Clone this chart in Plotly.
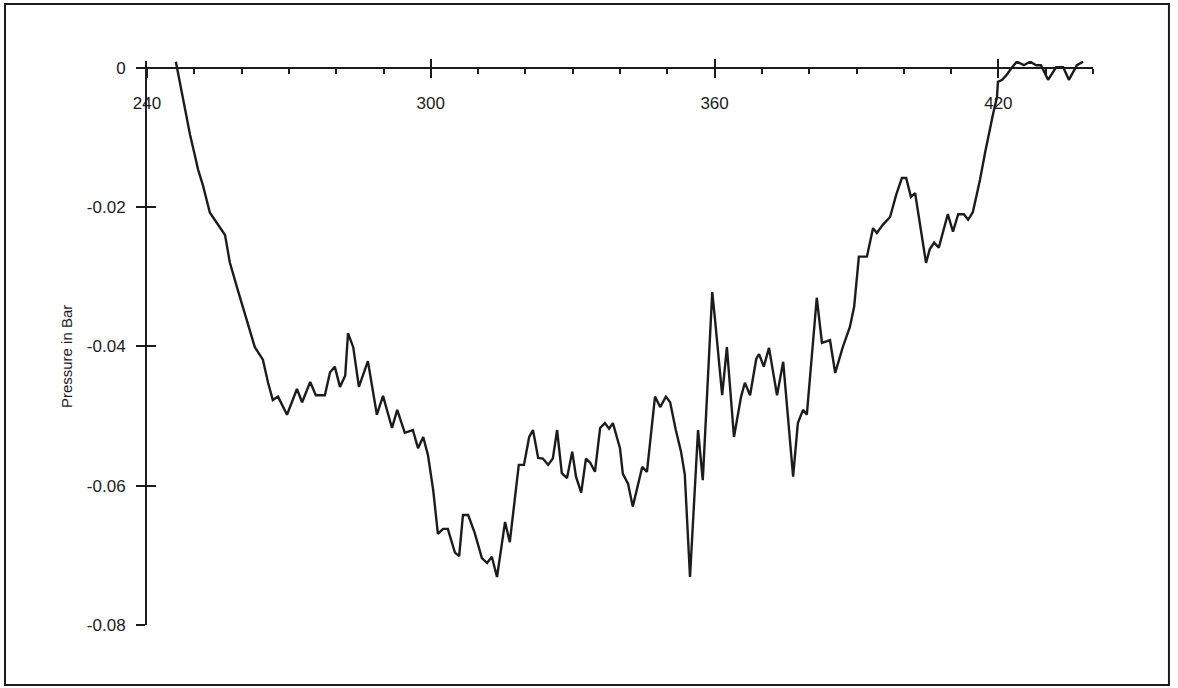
import plotly.graph_objects as go

# Time (x) and pressure in bar (y)
time_s = [246.1, 247.0, 248.0, 249.1, 250.1, 250.8, 251.8, 253.3, 256.5, 257.5,
          259.2, 260.7, 262.8, 264.5, 265.6, 266.6, 267.7, 269.6, 271.7, 272.8,
          274.5, 275.7, 277.6, 278.7, 279.7, 280.8, 281.9, 282.5, 283.6, 284.8,
          286.7, 288.6, 289.9, 291.8, 292.9, 294.5, 296.2, 297.3, 298.4, 299.4,
          300.5, 301.5, 302.6, 303.6, 305.1, 306.0, 306.8, 307.9, 309.3, 310.8,
          311.9, 312.9, 314.0, 315.7, 316.7, 318.6, 319.7, 320.8, 321.6, 322.7,
          323.7, 324.8, 325.8, 326.7, 327.7, 328.8, 329.9, 330.7, 331.8, 332.8,
          333.7, 334.7, 335.8, 336.8, 337.7, 338.5, 340.0, 340.6, 341.7, 342.7,
          344.7, 345.7, 347.4, 348.5, 349.7, 350.6, 351.8, 352.9, 353.7, 354.8,
          356.5, 357.5, 359.5, 360.1, 361.6, 362.6, 364.1, 365.6, 366.4, 367.5,
          368.8, 369.4, 370.4, 371.5, 373.2, 374.5, 376.6, 377.6, 378.7, 379.5,
          381.6, 382.7, 384.4, 385.5, 387.1, 388.6, 389.5, 390.5, 392.2, 393.5,
          394.3, 395.6, 397.1, 398.4, 399.6, 400.5, 401.5, 402.4, 404.7, 405.5,
          406.4, 407.4, 408.3, 409.3, 410.4, 411.5, 412.7, 413.6, 414.6, 416.1,
          417.2, 418.2, 418.9, 419.7, 419.9, 420.8, 421.6, 422.9, 423.9, 425.4,
          426.7, 428.0, 429.0, 430.5, 432.2, 433.7, 434.9, 436.6, 437.9]

pressure_bar = [0.0009, -0.0024, -0.0060, -0.0096, -0.0125, -0.0146, -0.0168, -0.0208, -0.0240, -0.0279,
                -0.0319, -0.0352, -0.0401, -0.0419, -0.0452, -0.0477, -0.0472, -0.0498, -0.0461, -0.0480,
                -0.0451, -0.0470, -0.0470, -0.0437, -0.0429, -0.0458, -0.0442, -0.0381, -0.0401, -0.0458,
                -0.0421, -0.0498, -0.0471, -0.0517, -0.0491, -0.0524, -0.0520, -0.0546, -0.0530, -0.0556,
                -0.0606, -0.0669, -0.0662, -0.0662, -0.0696, -0.0701, -0.0642, -0.0642, -0.0668, -0.0704,
                -0.0711, -0.0702, -0.0731, -0.0652, -0.0681, -0.0570, -0.0570, -0.0530, -0.0520, -0.0560,
                -0.0561, -0.0570, -0.0561, -0.0520, -0.0582, -0.0589, -0.0551, -0.0587, -0.0610, -0.0561,
                -0.0567, -0.0580, -0.0517, -0.0510, -0.0518, -0.0510, -0.0546, -0.0583, -0.0597, -0.0630,
                -0.0573, -0.0580, -0.0472, -0.0487, -0.0472, -0.0480, -0.0520, -0.0551, -0.0584, -0.0731,
                -0.0520, -0.0592, -0.0322, -0.0362, -0.0470, -0.0401, -0.0530, -0.0472, -0.0452, -0.0470,
                -0.0418, -0.0411, -0.0429, -0.0402, -0.0470, -0.0422, -0.0587, -0.0510, -0.0491, -0.0498,
                -0.0330, -0.0395, -0.0391, -0.0438, -0.0401, -0.0372, -0.0343, -0.0271, -0.0271, -0.0230,
                -0.0237, -0.0225, -0.0214, -0.0182, -0.0158, -0.0158, -0.0185, -0.0180, -0.0280, -0.0260,
                -0.0251, -0.0258, -0.0235, -0.0210, -0.0235, -0.0210, -0.0210, -0.0218, -0.0207, -0.0161,
                -0.0121, -0.0085, -0.0065, -0.0042, -0.0020, -0.0017, -0.0011, 0.0001, 0.0009, 0.0004,
                0.0009, 0.0004, 0.0004, -0.0017, 0.0001, 0.0001, -0.0017, 0.0004, 0.0009]

x_tick_vals = [240, 300, 360, 420]
x_tick_text = ["240", "300", "360", "420"]
y_tick_vals = [0, -0.02, -0.04, -0.06, -0.08]
y_tick_text = ["0", "-0.02", "-0.04", "-0.06", "-0.08"]
y_title = "Pressure in Bar"

INK = "#1c1c1c"
X_RANGE = [240, 440]
Y_RANGE = [-0.08, 0.001]
x_axis_pos = (0 - Y_RANGE[0]) / (Y_RANGE[1] - Y_RANGE[0])

fig = go.Figure()
fig.add_trace(go.Scatter(x=time_s, y=pressure_bar, mode="lines",
                         line=dict(color=INK, width=2.4), showlegend=False,
                         hoverinfo="skip"))
# invisible companion trace to carry the overlay axes (upper/right halves of crossing ticks)
fig.add_trace(go.Scatter(x=time_s, y=pressure_bar, mode="lines", xaxis="x2", yaxis="y2",
                         line=dict(color="rgba(0,0,0,0)", width=0), showlegend=False,
                         hoverinfo="skip"))

font = dict(family="Liberation Sans, Arial, sans-serif", size=17, color=INK)

fig.update_layout(
    width=1178, height=688, autosize=False,
    margin=dict(l=147, r=85, t=61, b=63),
    paper_bgcolor="white", plot_bgcolor="white",
    font=font,
    xaxis=dict(range=X_RANGE, anchor="free", position=x_axis_pos, side="bottom",
               showline=True, linecolor=INK, linewidth=2,
               tickmode="array", tickvals=x_tick_vals, ticktext=x_tick_text,
               ticks="outside", ticklen=9, tickwidth=2, tickcolor=INK,
               ticklabelstandoff=11,
               minor=dict(dtick=10, tick0=240, ticks="outside", ticklen=5, tickwidth=2,
                          tickcolor=INK, showgrid=False),
               showgrid=False, zeroline=False, tickfont=font),
    xaxis2=dict(range=X_RANGE, overlaying="x", matches="x", anchor="free", position=x_axis_pos,
                side="bottom", showline=False, tickmode="array", tickvals=x_tick_vals,
                ticks="inside", ticklen=9, tickwidth=2, tickcolor=INK,
                showticklabels=False, showgrid=False, zeroline=False),
    yaxis=dict(range=Y_RANGE, anchor="x", side="left",
               showline=True, linecolor=INK, linewidth=2,
               tickmode="array", tickvals=y_tick_vals, ticktext=y_tick_text,
               ticks="outside", ticklen=9, tickwidth=2, tickcolor=INK,
               ticklabelstandoff=7,
               showgrid=False, zeroline=False, tickfont=font),
    yaxis2=dict(range=Y_RANGE, overlaying="y", matches="y", anchor="x2", side="left",
                showline=False, tickmode="array", tickvals=y_tick_vals,
                ticks="inside", ticklen=9, tickwidth=2, tickcolor=INK,
                showticklabels=False, showgrid=False, zeroline=False),
    annotations=[dict(text=y_title, textangle=-90, xref="paper", yref="paper",
                      x=0, y=0.475, xanchor="center", yanchor="middle", xshift=-81,
                      showarrow=False, font=dict(family=font["family"], size=15, color=INK))],
    shapes=[dict(type="rect", xref="paper", yref="paper",
                 x0=-0.1501, x1=1.0803, y0=-0.1064, y1=1.1011,
                 line=dict(color=INK, width=2), fillcolor="rgba(0,0,0,0)")],
)

fig.write_html("out.html", config={"displayModeBar": False},
               post_script="document.body.style.margin='0';document.body.style.overflow='hidden';")
